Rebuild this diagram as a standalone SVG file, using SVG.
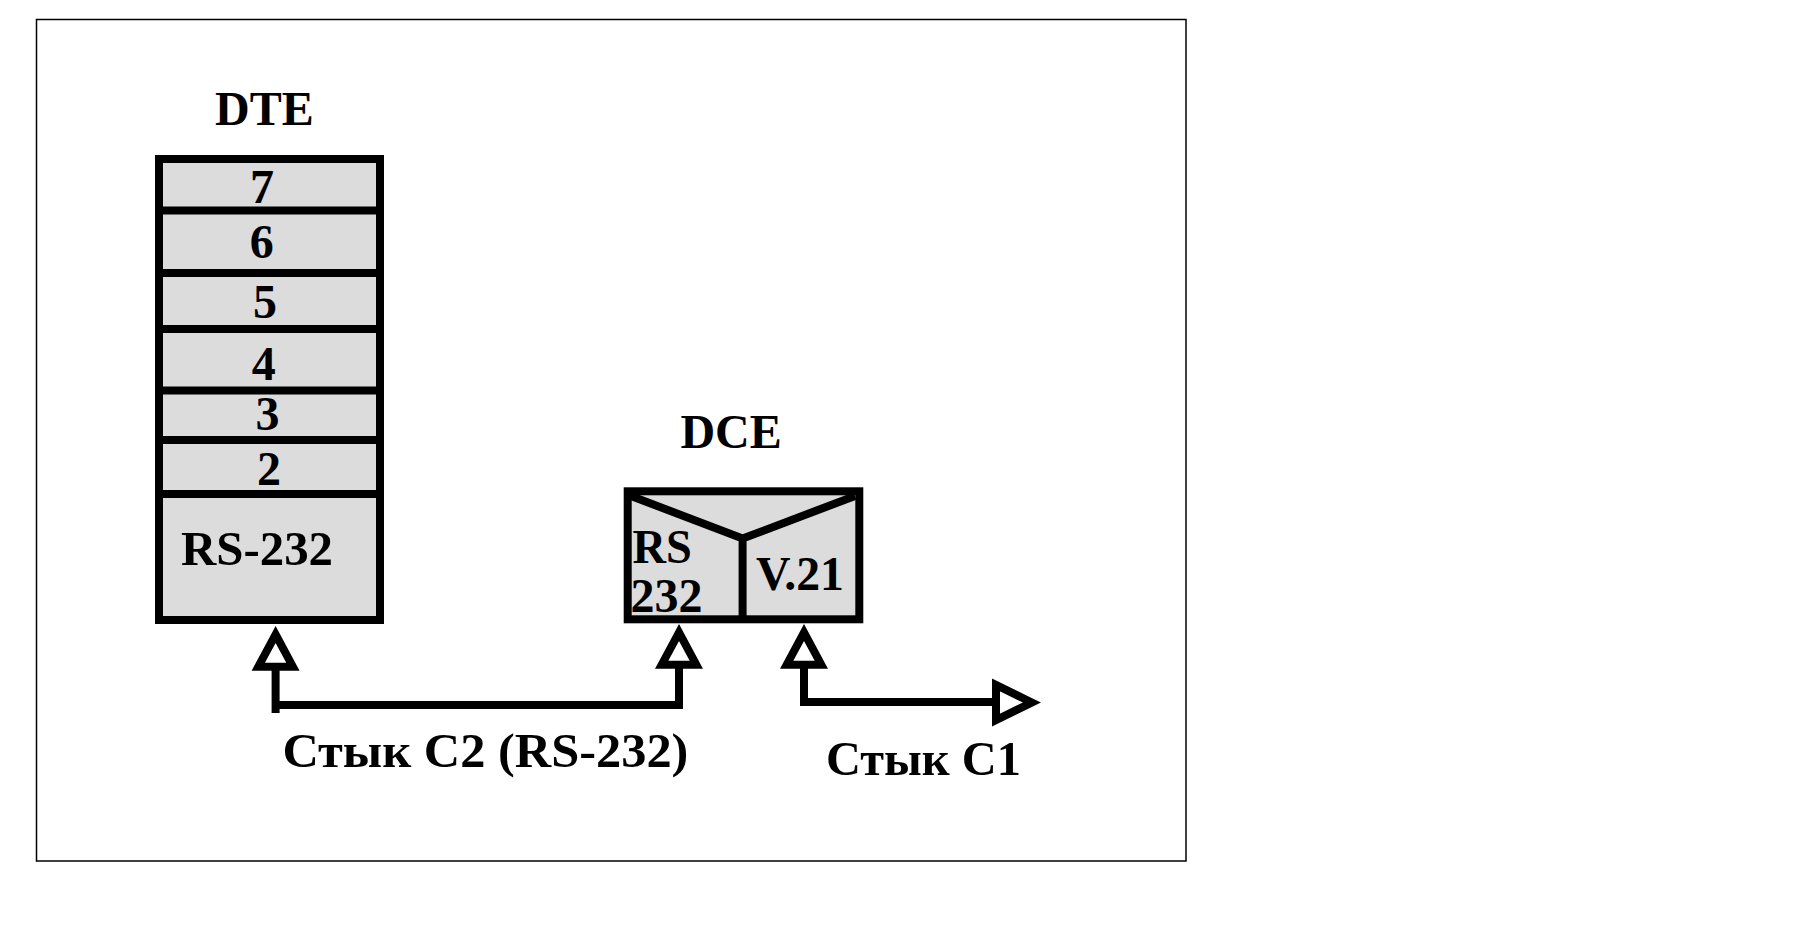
<svg xmlns="http://www.w3.org/2000/svg" width="1793" height="934" viewBox="0 0 1793 934">
<style>
.t{font-family:"Liberation Serif","Times New Roman",serif;font-weight:bold;fill:#000}
.s48{font-size:48px}
.box{fill:#dcdcdc;stroke:#000;stroke-width:8}
.ln{fill:none;stroke:#000;stroke-width:8;stroke-linejoin:miter}
.ah{fill:#fff;stroke:#000;stroke-width:8;stroke-linejoin:miter;stroke-miterlimit:10}
</style>
<rect x="0" y="0" width="1793" height="934" fill="#fff"/>
<rect id="frame" x="36.5" y="19.5" width="1149.5" height="841.5" fill="none" stroke="#000" stroke-width="1.5"/>
<g id="dte">
<text class="t s48" x="215" y="125">DTE</text>
<rect class="box" x="159" y="159" width="221" height="461"/>
<g class="ln">
<line x1="159" y1="210.5" x2="380" y2="210.5"/>
<line x1="159" y1="273" x2="380" y2="273"/>
<line x1="159" y1="329" x2="380" y2="329"/>
<line x1="159" y1="390.5" x2="380" y2="390.5"/>
<line x1="159" y1="440" x2="380" y2="440"/>
<line x1="159" y1="494" x2="380" y2="494"/>
</g>
<g class="t s48" text-anchor="middle">
<text x="262" y="203">7</text>
<text x="261.7" y="257.7">6</text>
<text x="265" y="318">5</text>
<text x="263.8" y="380">4</text>
<text x="267.6" y="430">3</text>
<text x="269" y="485">2</text>
</g>
<text class="t" font-size="49" x="181" y="565" textLength="152" lengthAdjust="spacingAndGlyphs">RS-232</text>
</g>
<g id="dce">
<text class="t s48" x="680.4" y="448.3">DCE</text>
<rect class="box" x="627.7" y="491.3" width="231.6" height="128"/>
<path class="ln" d="M631 496 L742.6 538.5 L855 496 M742.6 538.5 V620"/>
<text class="t s48" x="632.5" y="562.7" textLength="59.3" lengthAdjust="spacingAndGlyphs">RS</text>
<text class="t s48" x="630.6" y="611.7" textLength="72" lengthAdjust="spacingAndGlyphs">232</text>
<text class="t s48" x="756" y="590" textLength="88" lengthAdjust="spacingAndGlyphs">V.21</text>
</g>
<g id="connectors">
<path class="ln" d="M275.6 713 V666"/>
<path class="ln" d="M275.6 705 H679 V664" stroke-width="9"/>
<path class="ln" d="M804 706 V664 M800 702 H997"/>
<path class="ah" d="M275.6 634.5 L292.9 666.7 L258.3 666.7 Z"/>
<path class="ah" d="M679 632.5 L696.3 664.7 L661.7 664.7 Z"/>
<path class="ah" d="M804 632.5 L821.3 664.7 L786.7 664.7 Z"/>
<path class="ah" d="M1031.9 702.5 L996 684.9 L996 720.1 Z"/>
</g>
<g id="labels">
<text class="t s48" x="282.4" y="766.7" textLength="406" lengthAdjust="spacingAndGlyphs">Стык С2 (RS-232)</text>
<text class="t s48" x="826" y="775" textLength="195" lengthAdjust="spacingAndGlyphs">Стык С1</text>
</g>
</svg>
